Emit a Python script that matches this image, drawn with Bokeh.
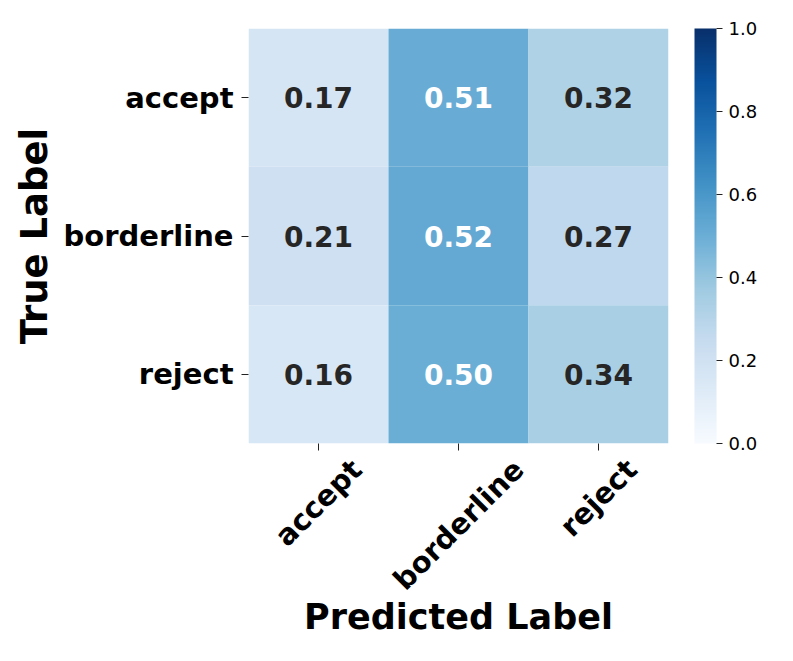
import math
from bokeh.plotting import figure
from bokeh.models import (ColumnDataSource, LinearColorMapper, ColorBar, FixedTicker,
                          PrintfTickFormatter, LinearAxis)
from bokeh.palettes import Blues256
from bokeh.transform import transform
from bokeh.core.properties import value
from bokeh.embed import file_html
from bokeh.resources import INLINE

# ---- data ----
true_labels = ["accept", "borderline", "reject"]
pred_labels = ["accept", "borderline", "reject"]
row_accept = [0.17, 0.51, 0.32]
row_borderline = [0.21, 0.52, 0.27]
row_reject = [0.16, 0.50, 0.34]
matrix = [row_accept, row_borderline, row_reject]
cbar_ticks = [0.0, 0.2, 0.4, 0.6, 0.8, 1.0]

FONT = "DejaVu Sans"
TICK_PX = 29
n = len(true_labels)
m = len(pred_labels)
FRAME_W = 420
FRAME_H = 415

xs, ys, vals, txt, tcol = [], [], [], [], []
for i, t in enumerate(true_labels):
    for j, pl in enumerate(pred_labels):
        v = matrix[i][j]
        xs.append(j + 0.5)
        ys.append(n - 1 - i + 0.5)
        vals.append(v)
        txt.append(f"{v:.2f}")
        tcol.append("white" if v > 0.45 else "#262626")
src = ColumnDataSource(dict(x=xs, y=ys, v=vals, t=txt, c=tcol))

mapper = LinearColorMapper(palette=list(Blues256[::-1]), low=0.0, high=1.0)

p = figure(output_backend="svg", toolbar_location=None,
           frame_width=FRAME_W, frame_height=FRAME_H,
           x_range=(0, m), y_range=(0, n),
           min_border_left=248, min_border_top=28, min_border_bottom=10,
           min_border_right=10)
p.outline_line_color = None
p.grid.visible = False
p.background_fill_color = "white"
p.border_fill_color = "white"

p.rect(x="x", y="y", width=1, height=1, source=src,
       fill_color=transform("v", mapper), line_color=None)
p.text(x="x", y="y", text="t", source=src, text_color="c",
       text_align="center", text_baseline="middle",
       text_font=value(FONT), text_font_style="bold", text_font_size="28px")

# y axis
p.yaxis.ticker = FixedTicker(ticks=[n - 1 - i + 0.5 for i in range(n)])
p.yaxis.major_label_overrides = {n - 1 - i + 0.5: lab for i, lab in enumerate(true_labels)}
p.yaxis.axis_line_color = None
p.yaxis.major_tick_out = 7
p.yaxis.major_tick_in = 0
p.yaxis.minor_tick_line_color = None
p.yaxis.major_tick_line_color = "#222222"
p.yaxis.major_label_standoff = 8
p.yaxis.major_label_text_font = FONT
p.yaxis.major_label_text_font_style = "bold"
p.yaxis.major_label_text_font_size = f"{TICK_PX}px"
p.yaxis.major_label_text_color = "black"
p.yaxis.axis_label = "True Label"
p.yaxis.axis_label_text_font = FONT
p.yaxis.axis_label_text_font_style = "bold"
p.yaxis.axis_label_text_font_size = "37px"
p.yaxis.axis_label_text_color = "black"
p.yaxis.axis_label_standoff = 5

# x axis: tick marks only
p.xaxis.ticker = FixedTicker(ticks=[j + 0.5 for j in range(m)])
p.xaxis.major_label_overrides = {j + 0.5: "" for j in range(m)}
p.xaxis.major_label_text_font_size = "0px"
p.xaxis.major_label_standoff = 0
p.xaxis.axis_line_color = None
p.xaxis.major_tick_out = 7
p.xaxis.major_tick_in = 0
p.xaxis.minor_tick_line_color = None
p.xaxis.major_tick_line_color = "#222222"

# second x axis carrying the 45-degree labels, centred under each tick
# (matplotlib rotation=45, ha="center"): anchor = right end of the text,
# shifted right by half the text width * cos(45)
adv = dict(a=.675, b=.716, c=.595, d=.716, e=.678, i=.343, j=.343, l=.343,
           n=.712, o=.687, p=.716, r=.493, t=.478)
label_pos = []
for j, lab in enumerate(pred_labels):
    w_px = sum(adv.get(ch, .65) for ch in lab) * TICK_PX
    label_pos.append(j + 0.5 + (w_px / 2) * math.cos(math.pi / 4) / (FRAME_W / m))
xlab = LinearAxis(ticker=FixedTicker(ticks=label_pos),
                  major_label_overrides={pos: lab for pos, lab in zip(label_pos, pred_labels)},
                  major_label_orientation=math.pi / 4,
                  axis_line_color=None, major_tick_line_color=None,
                  minor_tick_line_color=None, major_tick_out=0, major_tick_in=0,
                  major_label_standoff=14,
                  major_label_text_font=FONT, major_label_text_font_style="bold",
                  major_label_text_font_size=f"{TICK_PX}px", major_label_text_color="black",
                  axis_label="Predicted Label", axis_label_text_font=FONT,
                  axis_label_text_font_style="bold", axis_label_text_font_size="35px",
                  axis_label_text_color="black", axis_label_standoff=-15)
p.add_layout(xlab, "below")

cb = ColorBar(color_mapper=mapper, width=22, height=FRAME_H, location=(26, 0),
              margin=0, padding=0,
              ticker=FixedTicker(ticks=cbar_ticks),
              formatter=PrintfTickFormatter(format="%.1f"),
              major_tick_out=6, major_tick_in=0, major_tick_line_color="#222222",
              minor_tick_line_color=None, bar_line_color=None,
              border_line_color=None, background_fill_color=None,
              label_standoff=6, major_label_text_font=FONT,
              major_label_text_font_size="18px", major_label_text_color="black")
p.add_layout(cb, "right")

open("out.html", "w").write(file_html(p, INLINE))
